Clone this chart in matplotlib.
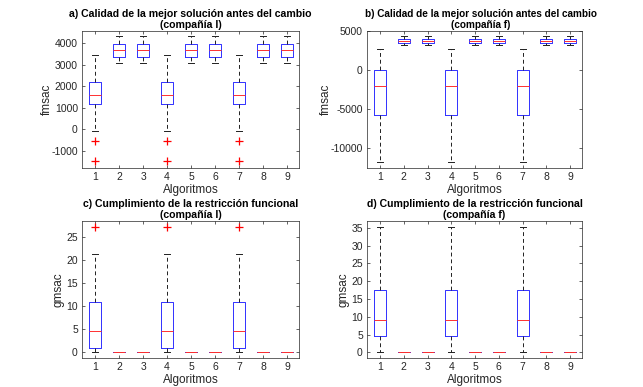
import matplotlib.pyplot as plt

plt.rcParams['font.family'] = ['Liberation Sans', 'DejaVu Sans']
plt.rcParams['axes.unicode_minus'] = False

algoritmos = [1, 2, 3, 4, 5, 6, 7, 8, 9]

# a) fmsac, compañía l
a_whislo = [-70, 3100, 3100, -70, 3100, 3100, -70, 3100, 3100]
a_q1 = [1160, 3390, 3390, 1160, 3390, 3390, 1160, 3390, 3390]
a_med = [1600, 3680, 3680, 1600, 3680, 3680, 1600, 3680, 3680]
a_q3 = [2190, 3970, 3970, 2190, 3970, 3970, 2190, 3970, 3970]
a_whishi = [3460, 4330, 4330, 3460, 4330, 4330, 3460, 4330, 4330]
a_fliers = [[-530, -1460], [], [], [-530, -1460], [], [], [-530, -1460], [], []]

# b) fmsac, compañía f
b_whislo = [-11700, 3200, 3200, -11700, 3200, 3200, -11700, 3200, 3200]
b_q1 = [-5800, 3460, 3460, -5800, 3460, 3460, -5800, 3460, 3460]
b_med = [-2000, 3720, 3720, -2000, 3720, 3720, -2000, 3720, 3720]
b_q3 = [0, 3970, 3970, 0, 3970, 3970, 0, 3970, 3970]
b_whishi = [2650, 4340, 4340, 2650, 4340, 4340, 2650, 4340, 4340]
b_fliers = [[], [], [], [], [], [], [], [], []]

# c) gmsac, compañía l
c_whislo = [0, 0, 0, 0, 0, 0, 0, 0, 0]
c_q1 = [0.9, 0, 0, 0.9, 0, 0, 0.9, 0, 0]
c_med = [4.5, 0, 0, 4.5, 0, 0, 4.5, 0, 0]
c_q3 = [10.8, 0, 0, 10.8, 0, 0, 10.8, 0, 0]
c_whishi = [21.2, 0, 0, 21.2, 0, 0, 21.2, 0, 0]
c_fliers = [[27.1], [], [], [27.1], [], [], [27.1], [], []]

# d) gmsac, compañía f
d_whislo = [0, 0, 0, 0, 0, 0, 0, 0, 0]
d_q1 = [4.6, 0, 0, 4.6, 0, 0, 4.6, 0, 0]
d_med = [9.0, 0, 0, 9.0, 0, 0, 9.0, 0, 0]
d_q3 = [17.5, 0, 0, 17.5, 0, 0, 17.5, 0, 0]
d_whishi = [35.3, 0, 0, 35.3, 0, 0, 35.3, 0, 0]
d_fliers = [[], [], [], [], [], [], [], [], []]

titles = ['a) Calidad de la mejor solución antes del cambio\n(compañía l)',
          'b) Calidad de la mejor solución antes del cambio\n(compañía f)',
          'c) Cumplimiento de la restricción funcional\n(compañía l)',
          'd) Cumplimiento de la restricción funcional\n(compañía f)']
ylabels = ['fmsac', 'fmsac', 'gmsac', 'gmsac']
yticks = [[-1000, 0, 1000, 2000, 3000, 4000],
          [-10000, -5000, 0, 5000],
          [0, 5, 10, 15, 20, 25],
          [0, 5, 10, 15, 20, 25, 30, 35]]
ylims = [(-1800, 4580), (-12520, 5000), (-1.37, 28.4), (-1.6, 36.9)]

panels = [
    (a_whislo, a_q1, a_med, a_q3, a_whishi, a_fliers),
    (b_whislo, b_q1, b_med, b_q3, b_whishi, b_fliers),
    (c_whislo, c_q1, c_med, c_q3, c_whishi, c_fliers),
    (d_whislo, d_q1, d_med, d_q3, d_whishi, d_fliers),
]

positions = [
    [82 / 643, 1 - 168 / 387, 217 / 643, 137 / 387],
    [367 / 643, 1 - 168 / 387, 215 / 643, 137 / 387],
    [82 / 643, 1 - 358 / 387, 217 / 643, 137 / 387],
    [367 / 643, 1 - 358 / 387, 215 / 643, 137 / 387],
]
title_x = [0.5, 0.53, 0.5, 0.5]
title_size = [7.6, 7.2, 7.6, 7.6]
label_pad = [-1, -1, 1, 1]

fig = plt.figure(figsize=(6.43, 3.87), dpi=100)

for i, (wlo, q1, med, q3, whi, fl) in enumerate(panels):
    ax = fig.add_axes(positions[i])
    stats = []
    for k in range(len(algoritmos)):
        stats.append({'whislo': wlo[k], 'q1': q1[k], 'med': med[k], 'q3': q3[k],
                      'whishi': whi[k], 'fliers': fl[k]})
    ax.bxp(stats, positions=algoritmos, widths=0.5, showfliers=True,
           boxprops=dict(color='#3030ff', linewidth=0.7),
           medianprops=dict(color='#ff3030', linewidth=0.7),
           whiskerprops=dict(color='#202020', linewidth=0.7, linestyle=(0, (4, 3))),
           capprops=dict(color='#202020', linewidth=0.7),
           capwidths=0.25,
           flierprops=dict(marker='+', markeredgecolor='red', markersize=5.5,
                           markeredgewidth=0.9, linestyle='none'))
    ax.set_xlim(0.45, 9.5)
    ax.set_ylim(*ylims[i])
    ax.set_xticks(algoritmos)
    ax.set_xticklabels([str(a) for a in algoritmos])
    ax.set_yticks(yticks[i])
    ax.tick_params(direction='in', top=True, right=True, length=2.5, width=0.5,
                   labelsize=7.5, colors='#262626', pad=3)
    for s in ax.spines.values():
        s.set_color('#262626')
        s.set_linewidth(0.5)
    ax.set_title(titles[i], fontsize=title_size[i], fontweight='bold', pad=2,
                 linespacing=1.15, x=title_x[i])
    ax.set_xlabel('Algoritmos', fontsize=8.5, color='#262626', labelpad=1)
    ax.set_ylabel(ylabels[i], fontsize=8.5, color='#262626', labelpad=label_pad[i])

fig.savefig('out.png', dpi=100)
